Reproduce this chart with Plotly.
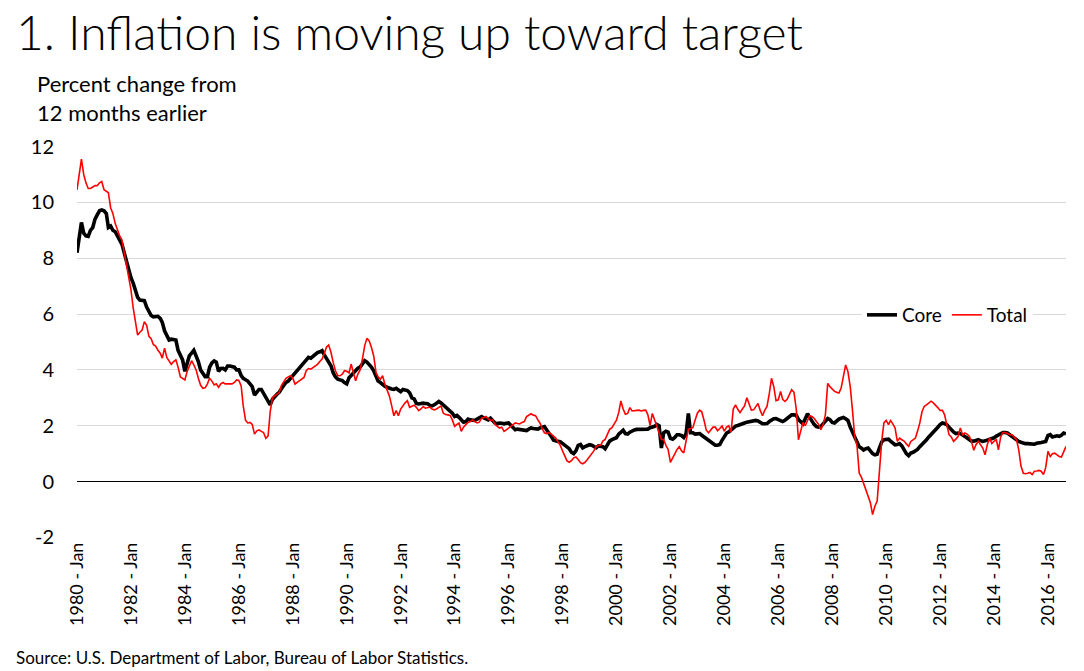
import plotly.graph_objects as go
import pandas as pd

start_month = "1980-01-01"

# Core, percent change from 12 months earlier (monthly, Jan 1980 - Sep 2016)
core = [
    8.2, 8.8, 9.28, 8.9, 8.8, 8.78, 9.0, 9.1, 9.4, 9.55, 9.7, 9.73,          # 1980
    9.7, 9.6, 9.1, 9.15, 9.0, 8.95, 8.8, 8.7, 8.5, 8.2, 7.85, 7.6,           # 1981
    7.3, 7.1, 6.8, 6.6, 6.5, 6.5, 6.48, 6.25, 6.1, 5.95, 5.9, 5.9,           # 1982
    5.92, 5.85, 5.7, 5.4, 5.2, 5.07, 5.1, 5.1, 5.07, 4.7, 4.5, 4.36,         # 1983
    3.95, 4.3, 4.5, 4.6, 4.7, 4.5, 4.3, 4.0, 3.85, 3.76, 3.76, 4.1,          # 1984
    4.25, 4.32, 4.28, 3.95, 4.05, 4.06, 4.0, 4.14, 4.14, 4.12, 4.1, 4.0,     # 1985
    4.0, 3.8, 3.7, 3.65, 3.6, 3.5, 3.4, 3.1, 3.2, 3.3, 3.3, 3.15,            # 1986
    3.0, 2.84, 2.75, 2.95, 3.05, 3.13, 3.2, 3.35, 3.45, 3.55, 3.6, 3.7,      # 1987
    3.8, 3.9, 4.0, 4.1, 4.2, 4.3, 4.4, 4.45, 4.42, 4.5, 4.57, 4.62,          # 1988
    4.65, 4.69, 4.55, 4.4, 4.3, 4.15, 3.9, 3.75, 3.67, 3.65, 3.62, 3.55,     # 1989
    3.5, 3.72, 3.8, 3.9, 4.0, 4.06, 4.1, 4.2, 4.33, 4.28, 4.2, 4.1,          # 1990
    3.97, 3.75, 3.6, 3.55, 3.47, 3.42, 3.38, 3.34, 3.32, 3.3, 3.34, 3.28,    # 1991
    3.22, 3.3, 3.28, 3.26, 3.18, 3.0, 2.96, 2.8, 2.78, 2.81, 2.81, 2.8,      # 1992
    2.79, 2.73, 2.71, 2.75, 2.8, 2.87, 2.82, 2.75, 2.69, 2.6, 2.55, 2.45,    # 1993
    2.33, 2.37, 2.3, 2.21, 2.13, 2.15, 2.24, 2.21, 2.2, 2.19, 2.24, 2.3,     # 1994
    2.33, 2.28, 2.25, 2.21, 2.27, 2.18, 2.1, 2.07, 2.1, 2.09, 2.07, 2.09,    # 1995
    2.1, 2.02, 1.92, 1.86, 1.88, 1.87, 1.86, 1.82, 1.83, 1.88, 1.92, 1.9,    # 1996
    1.88, 1.88, 1.92, 1.95, 1.97, 1.85, 1.75, 1.62, 1.48, 1.45, 1.44, 1.43,  # 1997
    1.36, 1.3, 1.24, 1.18, 1.05, 1.0, 1.1, 1.3, 1.33, 1.21, 1.25, 1.28,      # 1998
    1.32, 1.3, 1.24, 1.21, 1.28, 1.27, 1.25, 1.18, 1.3, 1.45, 1.5, 1.55,     # 1999
    1.57, 1.7, 1.78, 1.84, 1.72, 1.7, 1.77, 1.83, 1.85, 1.87, 1.87, 1.88,    # 2000
    1.89, 1.88, 1.88, 1.93, 1.96, 1.98, 2.05, 2.0, 1.2, 1.75, 1.8, 1.77,     # 2001
    1.55, 1.52, 1.58, 1.68, 1.68, 1.65, 1.58, 1.72, 2.44, 1.75, 1.75, 1.7,   # 2002
    1.71, 1.72, 1.66, 1.6, 1.53, 1.47, 1.42, 1.37, 1.3, 1.3, 1.33, 1.48,     # 2003
    1.62, 1.74, 1.78, 1.85, 1.93, 1.99, 2.01, 2.03, 2.05, 2.1, 2.13, 2.15,   # 2004
    2.18, 2.18, 2.19, 2.17, 2.12, 2.07, 2.07, 2.08, 2.15, 2.21, 2.25, 2.26,  # 2005
    2.22, 2.17, 2.15, 2.2, 2.27, 2.35, 2.39, 2.39, 2.38, 2.22, 2.12, 2.07,   # 2006
    2.25, 2.43, 2.3, 2.15, 2.05, 1.97, 1.95, 1.98, 2.08, 2.2, 2.26, 2.22,    # 2007
    2.12, 2.1, 2.19, 2.24, 2.27, 2.3, 2.25, 2.19, 1.95, 1.78, 1.6, 1.4,      # 2008
    1.25, 1.2, 1.13, 1.18, 1.2, 1.1, 1.0, 0.96, 0.98, 1.2, 1.42, 1.5,        # 2009
    1.52, 1.52, 1.45, 1.36, 1.32, 1.33, 1.36, 1.28, 1.1, 1.0, 0.93, 1.02,    # 2010
    1.05, 1.1, 1.15, 1.25, 1.32, 1.4, 1.5, 1.6, 1.68, 1.75, 1.85, 1.95,      # 2011
    2.04, 2.1, 2.08, 2.04, 1.95, 1.85, 1.78, 1.72, 1.74, 1.72, 1.68, 1.62,   # 2012
    1.56, 1.5, 1.45, 1.45, 1.48, 1.5, 1.47, 1.44, 1.46, 1.49, 1.5, 1.52,     # 2013
    1.57, 1.63, 1.68, 1.72, 1.76, 1.76, 1.74, 1.68, 1.62, 1.55, 1.48, 1.44,  # 2014
    1.41, 1.38, 1.36, 1.36, 1.35, 1.32, 1.34, 1.37, 1.4, 1.4, 1.42, 1.44,    # 2015
    1.65, 1.68, 1.6, 1.63, 1.64, 1.62, 1.66, 1.74, 1.71,                     # 2016
]

# Total, percent change from 12 months earlier
total = [
    10.45, 11.0, 11.55, 11.0, 10.7, 10.5, 10.5, 10.55, 10.6, 10.6, 10.7, 10.75,  # 1980
    10.45, 10.4, 10.35, 9.8, 9.6, 9.25, 9.0, 8.8, 8.65, 8.2, 7.7, 7.3,           # 1981
    6.87, 6.2, 5.8, 5.25, 5.35, 5.43, 5.73, 5.6, 5.2, 5.12, 4.9, 4.85,           # 1982
    4.7, 4.6, 4.42, 4.78, 4.45, 4.3, 4.2, 4.3, 4.36, 4.1, 3.75, 3.7,             # 1983
    3.64, 3.95, 4.15, 4.33, 4.18, 4.0, 3.7, 3.45, 3.34, 3.36, 3.5, 3.7,          # 1984
    3.6, 3.46, 3.5, 3.38, 3.5, 3.55, 3.5, 3.5, 3.5, 3.5, 3.55, 3.64,             # 1985
    3.62, 3.43, 2.72, 2.2, 2.1, 2.12, 2.05, 1.7, 1.82, 1.85, 1.8, 1.76,          # 1986
    1.55, 1.64, 2.5, 3.01, 3.07, 3.12, 3.19, 3.45, 3.6, 3.7, 3.75, 3.79,         # 1987
    3.7, 3.49, 3.55, 3.61, 3.68, 3.73, 3.97, 4.05, 4.03, 4.08, 4.15, 4.2,        # 1988
    4.3, 4.39, 4.57, 4.81, 4.89, 4.63, 4.27, 3.97, 3.8, 3.79, 3.85, 3.97,        # 1989
    3.95, 3.89, 4.21, 3.91, 3.61, 3.85, 4.0, 4.39, 4.87, 5.13, 5.04, 4.81,       # 1990
    4.5, 3.91, 3.75, 3.67, 3.79, 3.49, 3.3, 3.07, 2.72, 2.36, 2.54, 2.36,        # 1991
    2.6, 2.72, 2.82, 2.9, 2.66, 2.7, 2.74, 2.66, 2.54, 2.6, 2.69, 2.63,          # 1992
    2.65, 2.67, 2.6, 2.57, 2.6, 2.65, 2.71, 2.45, 2.4, 2.39, 2.37, 2.21,         # 1993
    1.98, 2.05, 2.1, 1.8, 1.95, 2.04, 2.12, 2.15, 2.21, 2.15, 2.1, 2.13,         # 1994
    2.27, 2.3, 2.33, 2.25, 2.19, 2.21, 2.05, 1.98, 1.92, 1.95, 1.8, 1.85,        # 1995
    1.92, 1.98, 2.05, 2.1, 2.08, 2.07, 2.12, 2.15, 2.33, 2.38, 2.43, 2.38,       # 1996
    2.36, 2.21, 2.1, 1.9, 1.75, 1.72, 1.76, 1.7, 1.62, 1.56, 1.42, 1.3,          # 1997
    1.1, 0.9, 0.75, 0.69, 0.75, 0.85, 0.88, 0.79, 0.68, 0.64, 0.69, 0.78,        # 1998
    0.89, 0.97, 1.1, 1.25, 1.29, 1.3, 1.45, 1.51, 1.7, 1.87, 1.93, 2.05,         # 1999
    2.2, 2.47, 2.89, 2.6, 2.41, 2.44, 2.65, 2.53, 2.53, 2.55, 2.56, 2.53,        # 2000
    2.55, 2.56, 2.4, 2.01, 2.44, 2.23, 2.0, 1.75, 1.51, 1.51, 1.3, 1.15,         # 2001
    0.69, 0.85, 1.03, 1.15, 1.25, 1.1, 1.03, 1.39, 1.87, 1.9, 1.93, 2.2,         # 2002
    2.45, 2.56, 2.5, 2.2, 1.85, 1.75, 1.85, 1.95, 1.95, 1.82, 1.9, 1.99,         # 2003
    1.81, 1.95, 2.0, 1.77, 2.6, 2.75, 2.59, 2.47, 2.6, 2.71, 3.0, 2.8,           # 2004
    2.56, 2.57, 2.69, 2.8, 2.55, 2.36, 2.55, 2.69, 3.15, 3.7, 3.4, 2.9,          # 2005
    2.93, 3.23, 2.95, 2.87, 2.95, 3.1, 3.29, 3.2, 2.6, 1.5, 1.8, 2.12,           # 2006
    2.0, 2.2, 2.36, 2.33, 2.27, 2.15, 2.05, 1.86, 2.05, 2.4, 3.52, 3.4,          # 2007
    3.3, 3.23, 3.2, 3.17, 3.35, 3.82, 4.18, 3.94, 3.4, 2.57, 1.6, 1.3,           # 2008
    0.3, 0.15, -0.05, -0.3, -0.52, -0.76, -1.18, -0.88, -0.7, 0.55, 1.44, 2.1,   # 2009
    2.19, 2.04, 2.19, 2.07, 1.92, 1.44, 1.56, 1.5, 1.45, 1.35, 1.26, 1.44,       # 2010
    1.5, 1.56, 1.8, 2.1, 2.5, 2.7, 2.75, 2.8, 2.88, 2.82, 2.75, 2.65,            # 2011
    2.55, 2.55, 2.4, 2.05, 1.68, 1.6, 1.44, 1.52, 1.62, 1.92, 1.68, 1.74,        # 2012
    1.7, 1.62, 1.44, 1.12, 1.32, 1.44, 1.3, 1.2, 0.96, 1.32, 1.56, 1.36,         # 2013
    1.45, 1.5, 1.14, 1.6, 1.76, 1.76, 1.72, 1.68, 1.68, 1.6, 1.5, 1.14,          # 2014
    0.55, 0.3, 0.28, 0.3, 0.33, 0.25, 0.37, 0.38, 0.4, 0.37, 0.25, 0.5,          # 2015
    1.08, 0.9, 1.0, 1.02, 0.95, 0.9, 0.88, 1.05, 1.26,                           # 2016
]

y_ticks = [-2, 0, 2, 4, 6, 8, 10, 12]
y_tick_labels = ["-2", "0", "2", "4", "6", "8", "10", "12"]

n = min(len(core), len(total))
months = pd.date_range(start_month, periods=n, freq="MS")

FONT = "Lato"
W, H = 1084, 671
# plot area in page pixels: x 77..1066, y 146..538
L, T = 77, 146
R = W - 1066
B = H - 538
pw, ph = W - L - R, H - T - B


def px_x(px):
    return (px - L) / pw


def px_y(py):
    return (H - B - py) / ph


fig = go.Figure()
fig.add_trace(go.Scatter(x=months, y=core[:n], mode="lines", name="Core",
                         line=dict(color="#000000", width=3.6)))
fig.add_trace(go.Scatter(x=months, y=total[:n], mode="lines", name="Total",
                         line=dict(color="#ff0000", width=1.6)))

fig.update_layout(
    width=W, height=H,
    margin=dict(l=L, r=R, t=T, b=B, autoexpand=False),
    paper_bgcolor="white", plot_bgcolor="white",
    font=dict(family=FONT, color="#000000", size=19),
    showlegend=True,
    legend=dict(orientation="h", x=px_x(862), y=px_y(315), xanchor="left", yanchor="middle",
                bgcolor="white", font=dict(size=19, family=FONT), itemwidth=30,
                tracegroupgap=0, traceorder="normal"),
    xaxis=dict(type="date", range=[months[0], months[-1]],
               tick0=start_month, dtick="M24", tickformat="%Y - %b",
               tickangle=-90, showgrid=False, showline=False, zeroline=False,
               ticks="", tickfont=dict(size=18, family=FONT)),
    yaxis=dict(range=[-2.02, 12.02], tickvals=y_ticks, ticktext=y_tick_labels, showgrid=True,
               gridcolor="#d9d9d9", gridwidth=1.2, zeroline=True,
               zerolinecolor="#000000", zerolinewidth=1, showline=False,
               ticks="", ticklabelstandoff=22, tickfont=dict(size=20, family=FONT)),
)

fig.add_annotation(text="1. Inflation is moving up toward target", xref="paper", yref="paper",
                   x=px_x(14), y=px_y(31), xanchor="left", yanchor="middle", showarrow=False,
                   font=dict(size=48, family=FONT, weight=300, color="#000000"))
fig.add_annotation(text="Percent change from<br>12 months earlier", xref="paper", yref="paper",
                   x=px_x(35), y=px_y(98), xanchor="left", yanchor="middle", showarrow=False,
                   align="left", font=dict(size=22, family=FONT, color="#000000"))
fig.add_annotation(text="Source: U.S. Department of Labor, Bureau of Labor Statistics.",
                   xref="paper", yref="paper", x=px_x(14), y=px_y(657), xanchor="left",
                   yanchor="middle", showarrow=False, font=dict(size=17, family=FONT, color="#000000"))

fig.write_html("out.html", config={"displayModeBar": False},
               post_script="document.body.style.margin='0';")
